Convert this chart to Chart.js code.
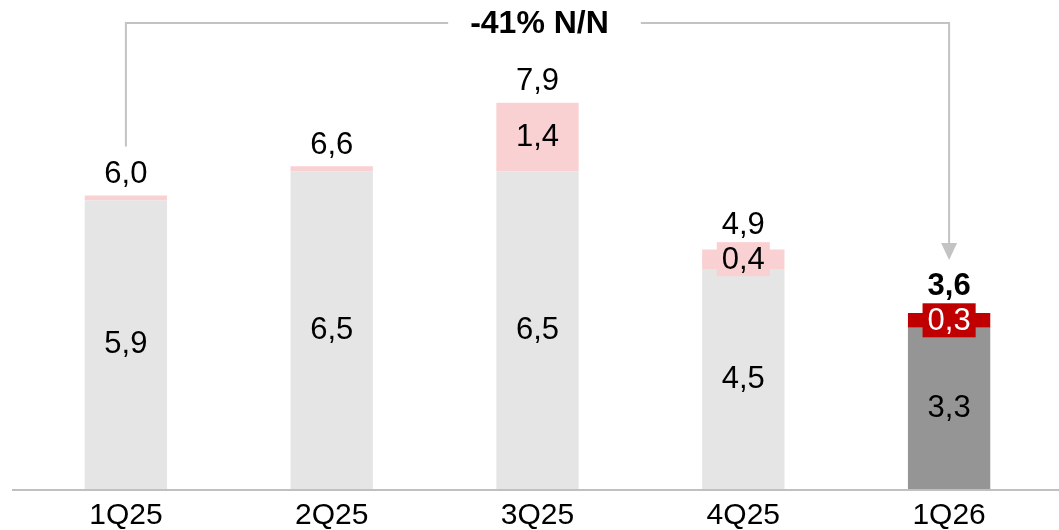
<!DOCTYPE html>
<html><head><meta charset="utf-8">
<script src="https://cdn.jsdelivr.net/npm/chart.js@4.4.1/dist/chart.umd.min.js"></script>
<style>html,body{margin:0;padding:0;background:#fff}#wrap{width:1059px;height:530px;position:relative}</style>
</head><body><div id="wrap"><canvas id="c"></canvas></div>
<script>
const categories = ['1Q25', '2Q25', '3Q25', '4Q25', '1Q26'];
const baseValues = [5.9, 6.5, 6.5, 4.5, 3.3];
const extraValues = [0.1, 0.1, 1.4, 0.4, 0.3];
const totalValues = [6.0, 6.6, 7.9, 4.9, 3.6];
const extraLabelShown = [false, false, true, true, true];
const changeLabel = '-41% N/N';

const baseColors = ['#e5e5e5', '#e5e5e5', '#e5e5e5', '#e5e5e5', '#959595'];
const extraColors = ['#f9d1d3', '#f9d1d3', '#f9d1d3', '#f9d1d3', '#c00000'];
const FONT = '"Liberation Sans", Arial, Helvetica, sans-serif';
const fmt = v => v.toFixed(1).replace('.', ',');

const labelPlugin = {
  id: 'labels',
  afterDatasetsDraw(chart) {
    const ctx = chart.ctx;
    const base = chart.getDatasetMeta(0).data;
    const extra = chart.getDatasetMeta(1).data;
    const last = categories.length - 1;
    ctx.save();
    ctx.textAlign = 'center';
    ctx.textBaseline = 'middle';
    base.forEach((bar, i) => {
      ctx.font = '31px ' + FONT;
      ctx.fillStyle = '#000';
      ctx.fillText(fmt(baseValues[i]), bar.x, (bar.y + bar.base) / 2);
    });
    extra.forEach((bar, i) => {
      const cy = (bar.y + bar.base) / 2;
      let topY = bar.y;
      let boxed = false;
      if (extraLabelShown[i]) {
        ctx.font = '31px ' + FONT;
        const txt = fmt(extraValues[i]);
        const w = ctx.measureText(txt).width + 10;
        const h = 34;
        if (bar.base - bar.y < h) {
          boxed = true;
          ctx.fillStyle = extraColors[i];
          ctx.fillRect(bar.x - w / 2, cy - h / 2, w, h);
          topY = Math.min(topY, cy - h / 2);
        }
        ctx.fillStyle = i === last ? '#fff' : '#000';
        ctx.fillText(txt, bar.x, cy + 1);
      }
      ctx.font = (i === last ? 'bold ' : '') + '31px ' + FONT;
      ctx.fillStyle = '#000';
      ctx.fillText(fmt(totalValues[i]), bar.x, topY - (boxed ? 17 : 21));
    });
    const y0 = chart.scales.y.getPixelForValue(0);
    ctx.strokeStyle = '#c0c0c0';
    ctx.lineWidth = 2;
    ctx.beginPath();
    ctx.moveTo(chart.chartArea.left - 11, y0 + 1);
    ctx.lineTo(chart.width, y0 + 1);
    ctx.stroke();
    const xa = chart.scales.x.getPixelForValue(0);
    const xb = chart.scales.x.getPixelForValue(last);
    const yTop = 23;
    const yA = chart.scales.y.getPixelForValue(totalValues[0]) - 49;
    const yB = chart.scales.y.getPixelForValue(totalValues[last]) - 53;
    ctx.font = 'bold 32px ' + FONT;
    const tx = (xa + xb) / 2 + 2;
    const tw = ctx.measureText(changeLabel).width;
    ctx.strokeStyle = '#c3c3c3';
    ctx.lineWidth = 2;
    ctx.beginPath();
    ctx.moveTo(xa, yA);
    ctx.lineTo(xa, yTop);
    ctx.lineTo(tx - tw / 2 - 22, yTop);
    ctx.moveTo(tx + tw / 2 + 32, yTop);
    ctx.lineTo(xb, yTop);
    ctx.lineTo(xb, yB - 16);
    ctx.stroke();
    ctx.fillStyle = '#c3c3c3';
    ctx.beginPath();
    ctx.moveTo(xb - 8, yB - 17);
    ctx.lineTo(xb + 8, yB - 17);
    ctx.lineTo(xb, yB);
    ctx.closePath();
    ctx.fill();
    ctx.fillStyle = '#000';
    ctx.fillText(changeLabel, tx, yTop + 1);
    ctx.restore();
  }
};

new Chart(document.getElementById('c'), {
  type: 'bar',
  data: {
    labels: categories,
    datasets: [
      { data: baseValues, backgroundColor: baseColors, borderWidth: 0 },
      { data: extraValues, backgroundColor: extraColors, borderWidth: 0 }
    ]
  },
  options: {
    responsive: true,
    maintainAspectRatio: false,
    animation: false,
    events: [],
    layout: { padding: { left: 23, right: 7, top: 0, bottom: 0 } },
    datasets: { bar: { categoryPercentage: 1, barPercentage: 0.4 } },
    plugins: { legend: { display: false }, tooltip: { enabled: false } },
    scales: {
      x: {
        stacked: true,
        grid: { display: false, drawTicks: false },
        border: { display: false },
        afterFit(scale) { scale.height = 41; },
        ticks: { color: '#000', padding: 12, font: { family: FONT, size: 30, lineHeight: 1 } }
      },
      y: { stacked: true, display: false, min: 0, max: 10 }
    }
  },
  plugins: [labelPlugin]
});
</script>
</body></html>
